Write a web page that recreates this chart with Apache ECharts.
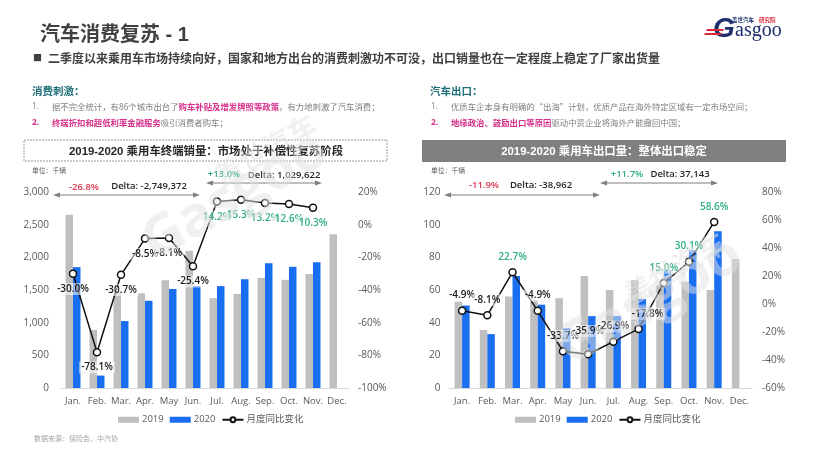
<!DOCTYPE html>
<html>
<head>
<meta charset="UTF-8">
<title>汽车消费复苏 - 1</title>
<script src="https://cdn.jsdelivr.net/npm/echarts@6/dist/echarts.min.js"></script>
<style>
  html, body { margin: 0; padding: 0; background: #fff; }
  #chart { width: 820px; height: 456px; }
</style>
</head>
<body>
<div id="chart"></div>
<script>
// data
var months = ['Jan.', 'Feb.', 'Mar.', 'Apr.', 'May', 'Jun.', 'Jul.', 'Aug.', 'Sep.', 'Oct.', 'Nov.', 'Dec.'];

var sales2019 = [2650, 890, 1470, 1450, 1650, 2100, 1375, 1440, 1685, 1655, 1745, 2355];
var sales2020 = [1850, 190, 1025, 1335, 1515, 1560, 1560, 1665, 1910, 1855, 1925, null];
var salesYoy = [-30.0, -78.1, -30.7, -8.5, -8.1, -25.4, 14.2, 15.3, 13.2, 12.6, 10.3, null];

var export2019 = [53, 35.5, 56, 54, 55, 68.5, 60, 66, 63, 65, 60, 79];
var export2020 = [50.5, 33, 68.5, 51, 36.5, 44, 44, 54.5, 72, 84.5, 96, null];
var exportYoy = [-4.9, -8.1, 22.7, -4.9, -33.7, -35.9, -26.9, -17.8, 15.0, 30.1, 58.6, null];

var FONT = '"Open Sans", "Noto Sans CJK SC", sans-serif';
var ARIAL = '"Liberation Sans", "Noto Sans CJK SC", sans-serif';
var CJK = '"Noto Sans CJK SC", sans-serif';
var GREY = '#bfbfbf', BLUE = '#1a6ef0', GREEN = '#2fae7e', RED = '#d9364f', PINK = '#d6308a', NAVY = '#1d2f6f';

function yoyPoints(values, position, offsets) {
  return values.map(function (v, i) {
    if (v === null) return null;
    return {
      value: v,
      label: {
        color: v > 0 ? GREEN : '#1a1a1a',
        position: position(i),
        offset: offsets[i] || [0, 0]
      }
    };
  });
}

function yoySeries(name, data, xi) {
  return {
    name: name, type: 'line', xAxisIndex: xi, yAxisIndex: xi * 2 + 1, data: data,
    symbol: 'circle', symbolSize: 7, z: 5,
    itemStyle: { color: '#fff', borderColor: '#111', borderWidth: 1.5 },
    lineStyle: { color: '#111', width: 1.5 },
    label: {
      show: true, fontFamily: FONT, fontSize: 10, fontWeight: 600, distance: 5,
      backgroundColor: 'rgba(255,255,255,0.55)', padding: [1, 2],
      formatter: function (p) { return p.value.toFixed(1) + '%'; }
    }
  };
}

function barSeries(name, data, color, xi) {
  return {
    name: name, type: 'bar', xAxisIndex: xi, yAxisIndex: xi * 2, data: data,
    barWidth: 7.5, barGap: 0, itemStyle: { color: color }
  };
}

function catAxis(grid) {
  return {
    type: 'category', gridIndex: grid, data: months,
    axisTick: { show: false },
    axisLine: { lineStyle: { color: '#d9d9d9' } },
    axisLabel: { fontFamily: FONT, fontSize: 9.5, color: '#595959', margin: 9, interval: 0 }
  };
}

function valAxis(grid, min, max, step, fmt, margin) {
  return {
    type: 'value', gridIndex: grid, min: min, max: max, interval: step,
    splitLine: { show: false }, axisLine: { show: false }, axisTick: { show: false },
    axisLabel: { fontFamily: FONT, fontSize: 10, color: '#595959', margin: margin, formatter: fmt }
  };
}

function pct(v) { return v + '%'; }
function thousands(v) { return v.toLocaleString('en-US'); }

function legend(left) {
  return {
    left: left, top: 410, itemWidth: 21, itemHeight: 6, itemGap: 6,
    textStyle: { fontFamily: FONT, fontSize: 9.5, color: '#595959', padding: [0, 0, 0, -2] },
    data: [
      { name: '2019', icon: 'rect' },
      { name: '2020', icon: 'rect' },
      { name: '月度同比变化' }
    ]
  };
}

function text(x, y, str, size, color, weight, align, family) {
  return {
    type: 'text', x: x, y: y, z: 20,
    style: {
      text: str, fontFamily: family || FONT, fontSize: size, fill: color,
      fontWeight: weight || 'normal', align: align || 'left', verticalAlign: 'middle'
    }
  };
}

// body line with a highlighted stretch
function richLine(x, y, parts) {
  var str = parts.map(function (p, i) { return '{s' + i + '|' + p[0] + '}'; }).join('');
  var rich = {};
  parts.forEach(function (p, i) {
    rich['s' + i] = { fontFamily: CJK, fontSize: 8.4, fill: p[1] ? PINK : '#7f7f7f', fontWeight: p[1] ? 'bold' : 'normal' };
  });
  return { type: 'text', x: x, y: y, z: 20, style: { text: str, rich: rich, verticalAlign: 'middle' } };
}

function arrow(x1, x2, y) {
  var c = '#7f7f7f';
  return [
    { type: 'line', z: 20, shape: { x1: x1 + 3, y1: y, x2: x2 - 3, y2: y }, style: { stroke: c, lineWidth: 1 } },
    { type: 'polygon', z: 20, shape: { points: [[x1, y], [x1 + 7, y - 2.5], [x1 + 7, y + 2.5]] }, style: { fill: c } },
    { type: 'polygon', z: 20, shape: { points: [[x2, y], [x2 - 7, y - 2.5], [x2 - 7, y + 2.5]] }, style: { fill: c } }
  ];
}

function watermark(x, y, str, size, family) {
  return {
    type: 'text', x: x, y: y, rotation: Math.PI / 6, z: 30, silent: true,
    style: {
      text: str, fontFamily: family, fontSize: size, fontWeight: 'bold',
      fill: 'rgba(226,226,226,0.5)', align: 'center', verticalAlign: 'middle'
    }
  };
}

var graphics = [
  text(40, 35, '汽车消费复苏 - 1', 20, '#404040', 'bold', 'left', ARIAL),
  text(33, 58, '■', 9, '#404040'),
  text(48, 58, '二季度以来乘用车市场持续向好\uFF0C国家和地方出台的消费刺激功不可没\uFF0C出口销量也在一定程度上稳定了厂家出货量', 12, '#404040', 'bold', 'left', CJK),

  text(32, 91, '消费刺激\uFF1A', 10.5, '#1f6f78', 'bold', 'left', CJK),
  text(32, 107, '1.', 8.4, '#7f7f7f'),
  richLine(52, 107, [['据不完全统计\uFF0C有86个城市出台了'], ['购车补贴及增发牌照等政策', 1], ['\uFF0C有力地刺激了汽车消费\uFF1B']]),
  text(32, 123, '2.', 8.4, PINK, 'bold'),
  richLine(52, 123, [['终端折扣和超低利率金融服务', 1], ['吸引消费者购车\uFF1B']]),

  text(430, 91, '汽车出口\uFF1A', 10.5, '#1f6f78', 'bold', 'left', CJK),
  text(431, 107, '1.', 8.4, '#7f7f7f'),
  richLine(451, 107, [['优质车企本身有明确的\u201C出海\u201D计划\uFF0C优质产品在海外特定区域有一定市场空间\uFF1B']]),
  text(431, 123, '2.', 8.4, PINK, 'bold'),
  richLine(451, 123, [['地缘政治、鼓励出口等原因', 1], ['驱动中资企业将海外产能撤回中国\uFF1B']]),

  { type: 'rect', z: 19, shape: { x: 24, y: 140, width: 363, height: 21 }, style: { fill: '#fff', stroke: '#7f7f7f', lineWidth: 0.8, lineDash: [2, 1] } },
  text(206, 152, '2019-2020 乘用车终端销量\uFF1A市场处于补偿性复苏阶段', 11.4, '#262626', 'bold', 'center', ARIAL),
  { type: 'rect', z: 19, shape: { x: 422, y: 140, width: 364, height: 22 }, style: { fill: '#808080' } },
  text(604, 152, '2019-2020 乘用车出口量\uFF1A整体出口稳定', 11.4, '#fff', 'bold', 'center', ARIAL),

  text(32, 170, '单位\uFF1A千辆', 6.8, '#595959', 'normal', 'left', CJK),
  text(431, 170, '单位\uFF1A千辆', 6.8, '#595959', 'normal', 'left', CJK),

  text(84, 187, '-26.8%', 9.5, RED, 600, 'center'),
  text(149, 186, 'Delta: -2,749,372', 9.5, '#262626', 600, 'center'),
  text(224, 174, '+13.0%', 9.5, GREEN, 600, 'center'),
  text(284, 175, 'Delta: 1,029,622', 9.5, '#262626', 600, 'center'),
  text(484, 185, '-11.9%', 9.5, RED, 600, 'center'),
  text(541, 185, 'Delta: -38,962', 9.5, '#262626', 600, 'center'),
  text(627, 174, '+11.7%', 9.5, GREEN, 600, 'center'),
  text(680, 174, 'Delta: 37,143', 9.5, '#262626', 600, 'center'),

  text(34, 438, '数据来源\uFF1A保险会、中汽协', 7, '#a6a6a6', 'normal', 'left', CJK),

  // logo
  text(732, 20, '盖世汽车', 5.5, NAVY, 'bold', 'left', CJK),
  text(759, 20, '研究院', 5.5, '#d9273a', 'bold', 'left', CJK),
  { type: 'text', x: 713, y: 29, z: 20, style: { text: 'G', fontFamily: 'Liberation Sans', fontSize: 28, fontStyle: 'italic', fontWeight: 'bold', fill: NAVY, verticalAlign: 'middle' } },
  { type: 'text', x: 735, y: 31, z: 20, style: { text: 'asgoo', fontFamily: 'Liberation Serif', fontSize: 20, fill: NAVY, verticalAlign: 'middle' } },
  { type: 'polygon', z: 21, shape: { points: [[707, 29], [724, 29], [723, 31], [706, 31]] }, style: { fill: '#d9273a' } },
  { type: 'polygon', z: 21, shape: { points: [[705, 33], [722, 33], [721, 35], [704, 35]] }, style: { fill: '#d9273a' } },

  // watermark over the charts
  watermark(265, 150, '盖世汽车', 28, CJK),
  watermark(235, 197, 'Gasgoo', 56, FONT),
  watermark(675, 268, '盖世汽车', 28, CJK),
  watermark(650, 302, 'Gasgoo', 56, FONT)
].concat(arrow(53, 200, 195), arrow(206, 322, 183), arrow(444, 600, 195), arrow(600, 718, 183));

var option = {
  animation: false,
  grid: [
    { left: 61, right: 471, top: 192, height: 196 },
    { left: 449.5, right: 68, top: 192, height: 196 }
  ],
  legend: [legend(113), legend(510)],
  xAxis: [catAxis(0), catAxis(1)],
  yAxis: [
    valAxis(0, 0, 3000, 500, thousands, 12),
    valAxis(0, -100, 20, 20, pct, 9),
    valAxis(1, 0, 120, 20, thousands, 9),
    valAxis(1, -60, 80, 20, pct, 10)
  ],
  series: [
    barSeries('2019', sales2019, GREY, 0),
    barSeries('2020', sales2020, BLUE, 0),
    yoySeries('月度同比变化', yoyPoints(salesYoy, function () { return 'bottom'; }, []), 0),
    barSeries('2019', export2019, GREY, 1),
    barSeries('2020', export2020, BLUE, 1),
    yoySeries('月度同比变化', yoyPoints(exportYoy, function () { return 'top'; }, { 5: [0, -8], 7: [9, 0] }), 1)
  ],
  graphic: graphics
};

var mychart = echarts.init(document.getElementById('chart'), null, { renderer: 'canvas' });
mychart.setOption(option);
</script>
</body>
</html>
